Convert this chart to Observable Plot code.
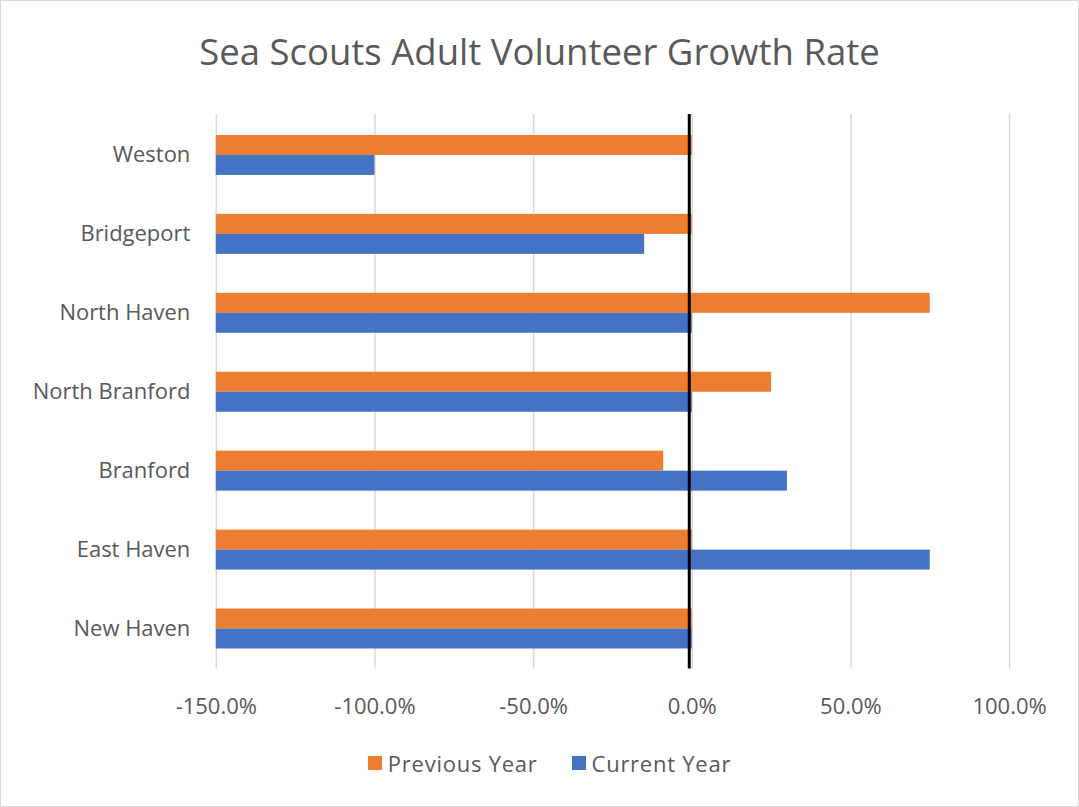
<!DOCTYPE html>
<html>
<head>
<meta charset="utf-8">
<script src="https://cdn.jsdelivr.net/npm/d3@7"></script>
<script src="https://cdn.jsdelivr.net/npm/@observablehq/plot@0.6"></script>
<style>
  html, body { margin: 0; padding: 0; background: #fff; }
  #chart {
    position: relative; width: 1077px; height: 805px;
    border: 1px solid #d9d9d9; background: #fff; overflow: hidden;
    font-family: "Open Sans", sans-serif; color: #595959;
  }
  #title {
    position: absolute; left: 0; top: 25px; width: 100%;
    text-align: center; font-size: 36.5px; line-height: 50px; color: #595959;
  }
  #plot { position: absolute; left: -1px; top: 99px; }
  #legend {
    position: absolute; left: 20px; top: 747px; width: 1057px;
    display: flex; justify-content: center; gap: 34px;
    font-size: 22px; line-height: 30px; letter-spacing: 0.75px; color: #595959;
  }
  .item { display: flex; align-items: center; gap: 6px; }
  .sw { width: 14px; height: 14px; display: inline-block; }
</style>
</head>
<body>
<div id="chart">
  <div id="title">Sea Scouts Adult Volunteer Growth Rate</div>
  <div id="plot"></div>
  <div id="legend"></div>
</div>
<script>
const categories = ["Weston", "Bridgeport", "North Haven", "North Branford", "Branford", "East Haven", "New Haven"];
const previousYear = [0, 0, 75, 25, -9, 0, 0];
const currentYear = [-100, -15, 0, 0, 30, 75, 0];
const xTicks = [-150, -100, -50, 0, 50, 100];
const seriesNames = ["Previous Year", "Current Year"];
const seriesColors = ["#ED7D31", "#4472C4"];

const prevRows = categories.map((c, i) => ({category: c, value: previousYear[i]}));
const currRows = categories.map((c, i) => ({category: c, value: currentYear[i]}));
const pct = d => d.toFixed(1) + "%";

const plot = Plot.plot({
  width: 1079,
  height: 621,
  marginLeft: 216,
  marginRight: 69,
  marginTop: 14,
  marginBottom: 52,
  style: {fontFamily: "Open Sans, sans-serif", color: "#595959", background: "transparent"},
  x: {domain: [-150, 100], ticks: xTicks, tickFormat: pct},
  y: {domain: categories, paddingInner: 0.495, paddingOuter: 0.2475, align: 0.5},
  marks: [
    Plot.ruleX(xTicks, {stroke: "#d9d9d9", strokeWidth: 1.5}),
    Plot.barX(prevRows, {x1: -150, x2: "value", y: "category", fill: seriesColors[0], insetBottom: 20}),
    Plot.barX(currRows, {x1: -150, x2: "value", y: "category", fill: seriesColors[1], insetTop: 20}),
    Plot.ruleX([0], {stroke: "#000", strokeWidth: 3, dx: -3}),
    Plot.axisX({ticks: xTicks, tickFormat: pct, tickSize: 0, tickPadding: 29, fontSize: 22, fill: "#595959", label: null, style: {letterSpacing: "1px"}}),
    Plot.axisY({tickSize: 0, tickPadding: 26, fontSize: 22, fill: "#595959", label: null, style: {letterSpacing: "0.6px"}})
  ]
});
document.getElementById("plot").appendChild(plot);

const legend = document.getElementById("legend");
seriesNames.forEach((name, i) => {
  const item = document.createElement("div");
  item.className = "item";
  const sw = document.createElement("span");
  sw.className = "sw";
  sw.style.background = seriesColors[i];
  const label = document.createElement("span");
  label.textContent = name;
  item.appendChild(sw);
  item.appendChild(label);
  legend.appendChild(item);
});
</script>
</body>
</html>
